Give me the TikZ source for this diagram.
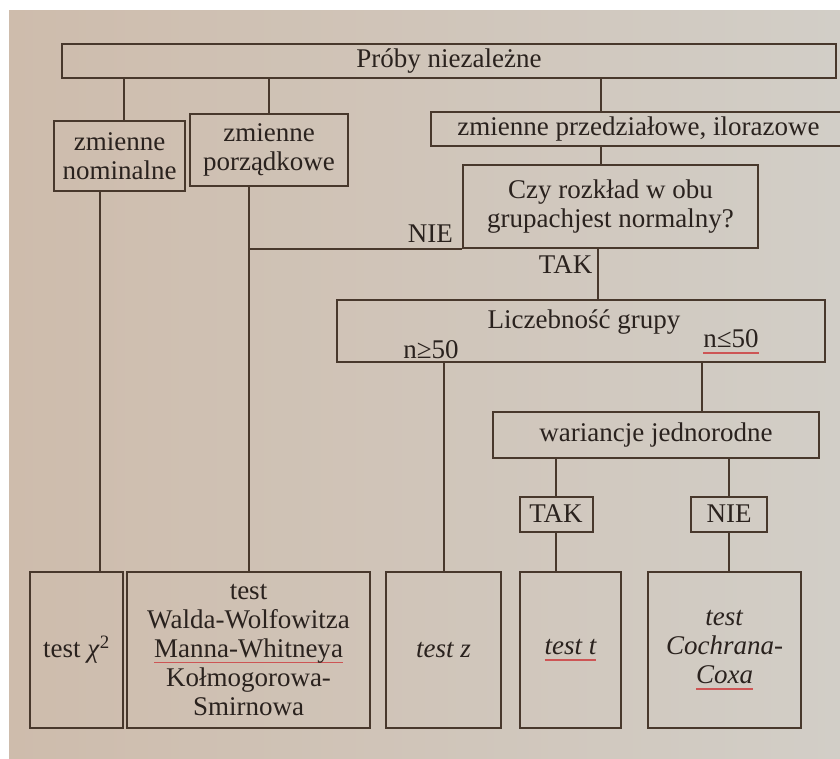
\documentclass[tikz,border=0pt]{standalone}
\usepackage{fontspec}
\setmainfont{Liberation Serif}
\usepackage{xcolor}
\definecolor{paperL}{RGB}{206,188,172}
\definecolor{paperR}{RGB}{210,206,199}
\definecolor{ink}{RGB}{72,56,44}
\definecolor{txt}{RGB}{42,34,30}
\definecolor{ulred}{RGB}{205,85,85}
\newcommand{\redul}[1]{\setbox0\hbox{#1}\rlap{\textcolor{ulred}{\rule[-6pt]{\wd0}{1.6pt}}}\box0}

\begin{document}
\begin{tikzpicture}[x=1pt,y=-1pt,
  box/.style={draw=ink, line width=2pt, inner sep=2pt, align=center, text=txt,
    font=\fontsize{27}{29}\selectfont},
  lbl/.style={inner sep=1pt, text=txt, font=\fontsize{27}{29}\selectfont},
  conn/.style={draw=ink, line width=2pt}]
  \useasboundingbox (0,0) rectangle (840,758);
  \clip (0,0) rectangle (840,758);
  \fill[white] (0,0) rectangle (840,758);
  \shade[left color=paperL, right color=paperR] (9,10) rectangle (840,758);

  % upper rows
  \node[box, minimum width=774, minimum height=34] (proby) at (449,61) {Próby niezależne};
  \node[box, minimum width=131, minimum height=70] (nom) at (119.5,156) {zmienne\\nominalne};
  \node[box, minimum width=158, minimum height=72] (por) at (269,150) {zmienne\\porządkowe};
  \node[box, minimum width=415, minimum height=34] (prz) at (638.5,129) {zmienne przedziałowe, ilorazowe};
  \node[box, minimum width=295, minimum height=83] (czy) at (610.5,206.5) {Czy rozkład w obu\\grupachjest normalny?};
  \node[box, minimum width=488, minimum height=62] (licz) at (581,331) {};
  \node[lbl] (lgr) at (584,322) {Liczebność grupy};
  \node[lbl] (nge) at (431,350) {n≥50};
  \node[lbl] (nle) at (731,342) {\redul{n≤50}};
  \node[box, minimum width=326, minimum height=46] (war) at (656,435) {wariancje jednorodne};
  \node[box, minimum width=73, minimum height=35, inner sep=1pt] (taks) at (556,514) {TAK};
  \node[box, minimum width=76, minimum height=35, inner sep=1pt] (nies) at (729,514) {NIE};

  % bottom row
  \node[box, minimum width=93, minimum height=156] (chi) at (76.5,650) {test \textit{χ}\textsuperscript{2}};
  \node[box, minimum width=243, minimum height=156] (walda) at (248.5,650)
    {test\\Walda-Wolfowitza\\\redul{Manna-Whitneya}\\Kołmogorowa-\\Smirnowa};
  \node[box, minimum width=115, minimum height=156] (testz) at (443.5,650) {\textit{test z}};
  \node[box, minimum width=101, minimum height=156] (testt) at (570.5,650) {\textit{\redul{test t}}};
  \node[box, minimum width=153, minimum height=156] (coch) at (724.5,650)
    {\textit{test}\\\textit{Cochrana-}\\\textit{\redul{Coxa}}};

  % connectors
  \draw[conn] ([xshift=4pt]nom.north) -- ([xshift=4pt]nom.north |- proby.south);
  \draw[conn] (por.north) -- (por.north |- proby.south);
  \draw[conn] ([xshift=-38pt]prz.north) -- ([xshift=-38pt]prz.north |- proby.south);
  \draw[conn] ([xshift=-20pt]nom.south) -- ([xshift=-20pt]nom.south |- chi.north);
  \draw[conn] (walda.north) -- (walda.north |- por.south);
  \draw[conn] ([xshift=-10pt]czy.north) -- ([xshift=-10pt]czy.north |- prz.south);
  \coordinate (czyout) at ([xshift=-13pt]czy.south);
  \draw[conn] (czy.south west) -- (czy.south west -| walda.north);
  \node[lbl, anchor=south east] (nie1) at ([xshift=-8pt,yshift=5pt]czy.south west) {NIE};
  \draw[conn] (czyout) -- (czyout |- licz.north);
  \node[lbl, anchor=north east] (tak1) at ([xshift=-4pt,yshift=-5pt]czyout) {TAK};
  \draw[conn] (testz.north) -- (testz.north |- licz.south);
  \draw[conn] ([xshift=46pt]war.north) -- ([xshift=46pt]war.north |- licz.south);
  \draw[conn] (taks.north) -- (taks.north |- war.south);
  \draw[conn] (nies.north) -- (nies.north |- war.south);
  \draw[conn] (taks.south) -- (taks.south |- testt.north);
  \draw[conn] (nies.south) -- (nies.south |- coch.north);
\end{tikzpicture}
\end{document}
